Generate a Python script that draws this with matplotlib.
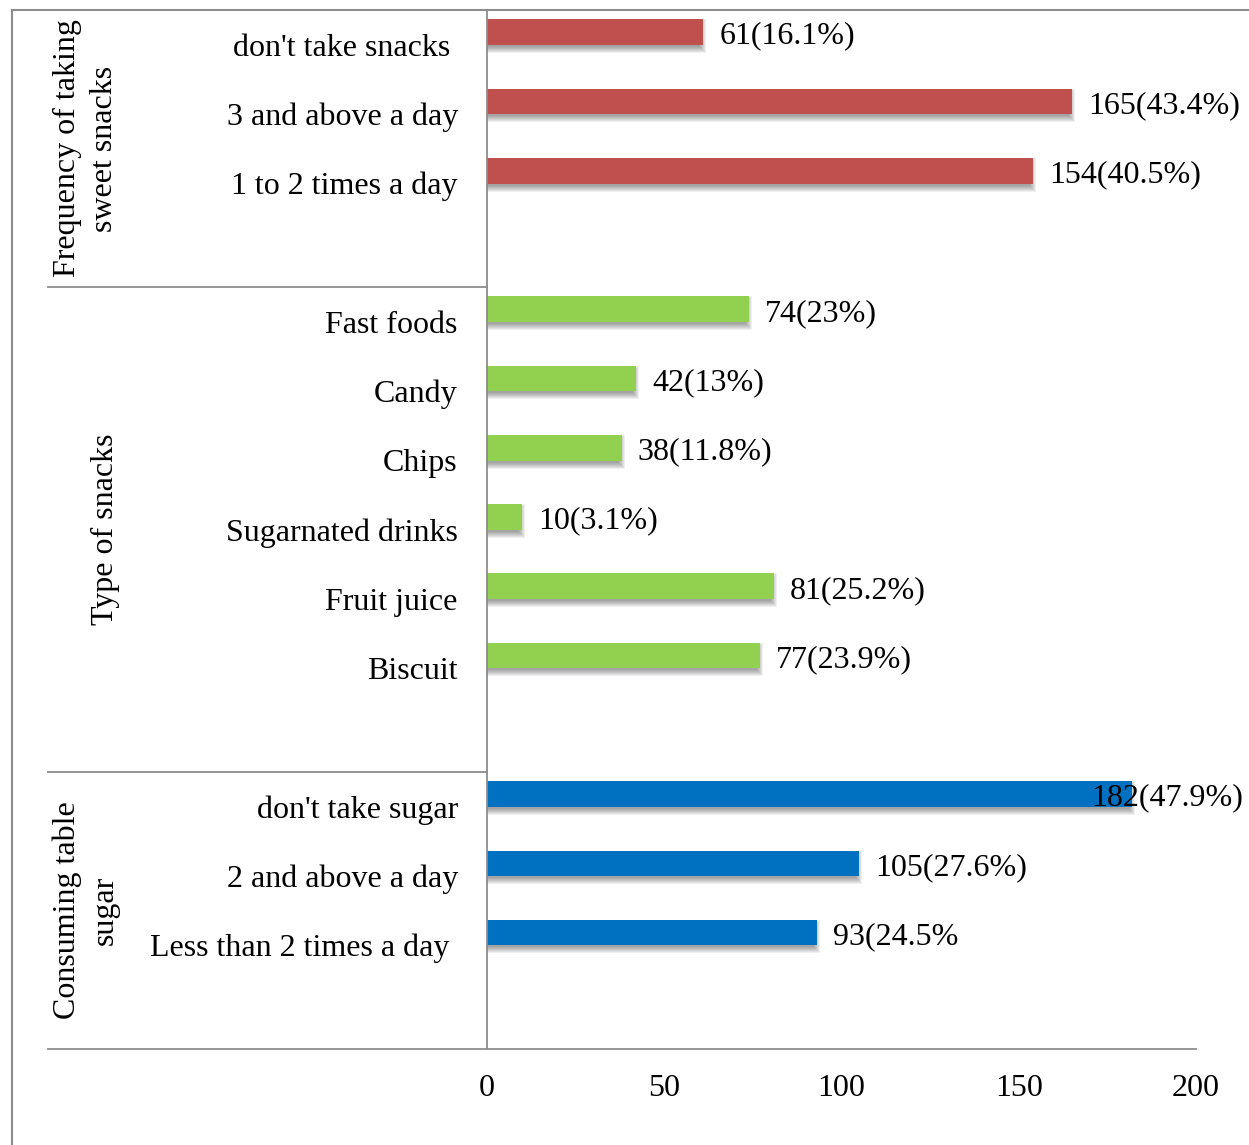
import matplotlib
matplotlib.use("Agg")
import matplotlib.pyplot as plt
from matplotlib.patches import Rectangle
from matplotlib.lines import Line2D
from matplotlib.transforms import blended_transform_factory, offset_copy

plt.rcParams['font.family'] = ['Liberation Serif', 'DejaVu Serif']

# ---- data -------------------------------------------------------------
group_titles = ["Frequency of taking\nsweet snacks", "Type of snacks",
                "Consuming table\nsugar"]

freq_labels = ["don't take snacks ", "3 and above a day", "1 to 2 times a day"]
freq_counts = [61, 165, 154]
freq_pct = ["16.1%", "43.4%", "40.5%"]

type_labels = ["Fast foods", "Candy", "Chips", "Sugarnated drinks",
               "Fruit juice", "Biscuit"]
type_counts = [74, 42, 38, 10, 81, 77]
type_pct = ["23%", "13%", "11.8%", "3.1%", "25.2%", "23.9%"]

sugar_labels = ["don't take sugar", "2 and above a day",
                "Less than 2 times a day "]
sugar_counts = [182, 105, 93]
sugar_pct = ["47.9%", "27.6%", "24.5%"]
sugar_closed = [True, True, False]

colors = ["#C0504D", "#92D050", "#0070C0"]
x_ticks = [0, 50, 100, 150, 200]

groups = [
    (freq_labels, freq_counts, freq_pct, [True] * len(freq_counts)),
    (type_labels, type_counts, type_pct, [True] * len(type_counts)),
    (sugar_labels, sugar_counts, sugar_pct, sugar_closed),
]

# ---- figure layout ----------------------------------------------------
W, H = 1249, 1145
fig = plt.figure(figsize=(W / 100, H / 100), dpi=100)
ax_l, ax_r, ax_t, ax_b = 487, 1196, 10, 1049
ax = fig.add_axes([ax_l / W, 1 - ax_b / H, (ax_r - ax_l) / W, (ax_b - ax_t) / H])

n_slots = sum(len(g[0]) + 1 for g in groups)
ax.set_xlim(0, 200)
ax.set_ylim(n_slots, 0)

px_x = (ax_r - ax_l) / 200.0          # pixels per x unit
px_y = (ax_b - ax_t) / n_slots        # pixels per slot

FS = 23
grey = "#8c8c8c"

bar_h = 0.37
bar_shift = 0.18


def shadow(ax, x1, yc, h):
    """Soft drop shadow below-right of a bar."""
    dx, dy = 3 / px_x, 4 / px_y
    n = 7
    for k in range(n):
        ex = (k - 2) / px_x
        ey = (k - 2) / px_y
        ax.add_patch(Rectangle((0, yc - h / 2 + dy - ey),
                               x1 + dx - 4 / px_x + ex, h + 2 * ey,
                               facecolor="black", alpha=0.06,
                               edgecolor="none", zorder=1))


tick_pos, tick_lab = [], []
value_texts = []
boundaries = [0]
slot = 0
for (labels, counts, pcts, closed), col in zip(groups, colors):
    start = slot
    for lab, c, p, cl in zip(labels, counts, pcts, closed):
        yc = slot + 0.5
        yb = yc - bar_shift
        shadow(ax, c, yb, bar_h)
        ax.barh(yb, c, height=bar_h, color=col, edgecolor="none", zorder=2)
        txt = f"{c}({p}" + (")" if cl else "")
        t = ax.text(c, yb, txt, fontsize=FS, ha="left", va="center",
                    transform=offset_copy(ax.transData, fig=fig, x=16, y=-4,
                                          units="dots"), zorder=3)
        value_texts.append((t, c))
        tick_pos.append(yc)
        tick_lab.append(lab)
        slot += 1
    slot += 1
    boundaries.append(slot)
    # group title, rotated, left of the category labels
    mid = (start + slot) / 2
    title = group_titles[len(boundaries) - 2]
    gx = 86 if "\n" in title else 105
    ax.text(gx / W, mid, title, rotation=90,
            ha="center", va="center", fontsize=FS, linespacing=1.38,
            transform=blended_transform_factory(fig.transFigure, ax.transData))

ax.set_yticks(tick_pos, tick_lab)
ax.tick_params(axis="y", length=0, pad=21, labelsize=FS)
ax.set_xticks(x_ticks, [str(v) for v in x_ticks])
ax.tick_params(axis="x", length=0, pad=18, labelsize=FS)

for s in ["top", "right", "bottom"]:
    ax.spines[s].set_visible(False)
ax.spines["left"].set_color(grey)
ax.spines["left"].set_linewidth(1.3)

# horizontal axis line and group separators reaching into label column
bt = blended_transform_factory(ax.transAxes, ax.transData)
x_far = (48 - ax_l) / (ax_r - ax_l)
for b in boundaries[1:]:
    ax.add_line(Line2D([x_far, 0 if b != n_slots else 1], [b, b],
                       color=grey, lw=1.3, transform=bt, clip_on=False))

# outer frame (left and top edges)
fig.add_artist(Line2D([12 / W, 12 / W], [0, 1 - 10 / H], color=grey, lw=1.5,
                      transform=fig.transFigure))
fig.add_artist(Line2D([12 / W, 1], [1 - 10 / H, 1 - 10 / H], color=grey,
                      lw=1.5, transform=fig.transFigure))

# keep value labels inside the figure
fig.canvas.draw()
limit = W - 6
for t, c in value_texts:
    bb = t.get_window_extent()
    if bb.x1 > limit:
        t.set_x(c - (bb.x1 - limit) / px_x)

fig.savefig("out.png", dpi=100)
